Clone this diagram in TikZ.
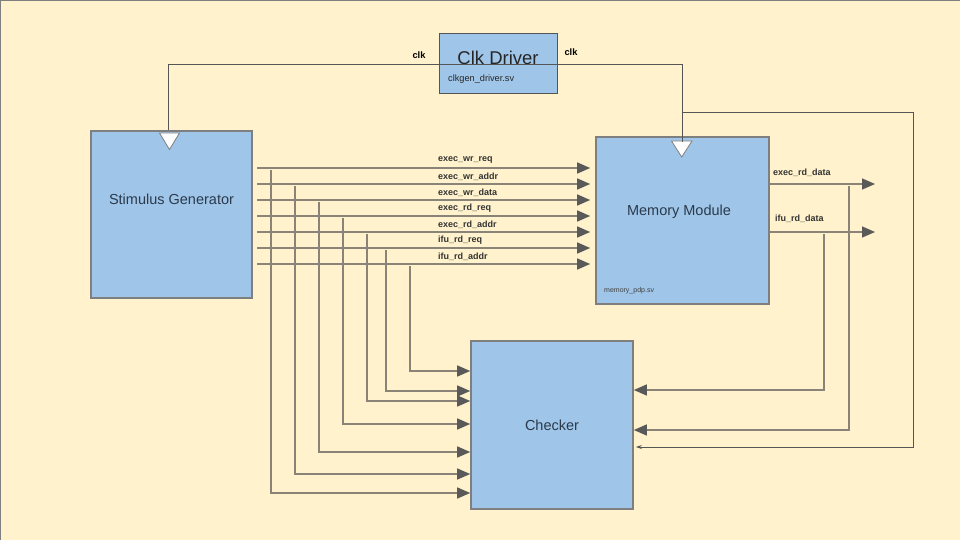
\documentclass[tikz,border=0pt]{standalone}
\usepackage{fontspec}
\setmainfont{Liberation Sans}
\usetikzlibrary{arrows.meta}
\definecolor{bg}{HTML}{FFF2CC}
\definecolor{boxfill}{HTML}{9FC5E8}
\definecolor{boxline}{HTML}{7F7F7F}
\definecolor{sigline}{HTML}{8A8478}
\definecolor{tipcol}{HTML}{595959}
\definecolor{clkline}{HTML}{555555}
\definecolor{txt}{HTML}{2B3A4C}
\tikzset{
  blockbox/.style={draw=boxline, line width=1.6pt, fill=boxfill, inner sep=0pt},
  bigtext/.style={font=\fontsize{14.5}{16}\selectfont, text=txt, inner sep=0pt},
  sig/.style={draw=sigline, line width=1.4pt, -{Triangle[length=13pt,width=11pt,color=tipcol]}},
  siglabel/.style={font=\fontsize{9}{10}\selectfont\bfseries, text=black!80, inner sep=0pt, anchor=west},
  clkwire/.style={draw=clkline, line width=0.9pt},
  clktri/.style={draw=boxline, line width=0.8pt, fill=white},
}
\begin{document}
\begin{tikzpicture}[x=1pt,y=-1pt]
\fill[bg] (0,0) rectangle (960,540);
\useasboundingbox (0,0) rectangle (960,540);
\draw[boxline, line width=1.5pt] (0.5,540) -- (0.5,0.5) -- (960,0.5);

% blocks
\node[blockbox, minimum width=161pt, minimum height=167pt] (sg) at (171.5,214.5) {};
\node[blockbox, minimum width=173pt, minimum height=167pt] (mm) at (682.5,220.5) {};
\node[blockbox, minimum width=162pt, minimum height=168pt] (ck) at (552,425) {};
\node[draw=clkline, line width=0.8pt, fill=boxfill, minimum width=118pt, minimum height=60pt, inner sep=0pt] (cd) at (498,63) {};

\node[bigtext] (sgt) at (171.5,199) {Stimulus Generator};
\node[bigtext] (mmt) at (679,212) {Memory Module};
\node[bigtext] (ckt) at (552,425) {Checker};
\node[font=\fontsize{18.5}{20}\selectfont, text=black!85, inner sep=0pt] (cdt) at (498,58) {Clk Driver};
\node[font=\fontsize{9.2}{10}\selectfont, text=black!85, inner sep=0pt, anchor=west] (cdf) at (448,79) {clkgen\_driver.sv};
\node[font=\fontsize{7}{8}\selectfont, text=black!75, inner sep=0pt, anchor=west] (mmf) at (604,291) {memory\_pdp.sv};

% clock wiring
\coordinate (clkL) at (168,64);
\coordinate (clkR) at (682,64);
\coordinate (fb0) at (682,112);
\coordinate (fb1) at (913,112);
\coordinate (fb2) at (913,447);
\draw[clkwire] (clkL) -- (clkR);
\draw[clkwire] (clkL) -- (clkL |- sg.north);
\draw[clkwire] (clkR) -- ([yshift=-6pt]clkR |- mm.north);
\draw[clkwire, -{Stealth[length=6pt,width=4pt]}] (fb0) -- (fb1) -- (fb2) -- ([xshift=2pt]ck.east |- fb2);
\node[font=\fontsize{9.3}{10}\selectfont\bfseries, inner sep=0pt] (clkl1) at (419,55) {clk};
\node[font=\fontsize{9.3}{10}\selectfont\bfseries, inner sep=0pt] (clkl2) at (571,52) {clk};

% clock triangles
\draw[clktri] (159.5,133) -- (179.5,133) -- (169.5,149.5) -- cycle;
\draw[clktri] (671.5,141) -- (692,141) -- (681.7,157) -- cycle;
\draw[clkwire] (clkR |- mm.north) -- ([yshift=-6pt]clkR |- mm.north);

% stimulus -> memory signals
\foreach \n/\y/\lab in {1/168/exec\_wr\_req, 2/184/exec\_wr\_addr, 3/200/exec\_wr\_data, 4/216/exec\_rd\_req, 5/232/exec\_rd\_addr, 6/248/ifu\_rd\_req, 7/264/ifu\_rd\_addr}{
  \coordinate (s\n) at (257,\y);
  \draw[sig] (s\n) -- ([xshift=-5pt]mm.west |- s\n);
  \node[siglabel] (l\n) at (438,\y-7.5) {\lab};
}

% taps to checker
\foreach \n/\x/\y in {1/271/493, 2/295/474, 3/319/452, 4/343/424, 5/367/401, 6/386/391, 7/410/371}{
  \coordinate (t\n) at (\x,\y);
  \draw[sig] ([yshift=-2pt]s\n -| t\n) -- (t\n) -- (ck.west |- t\n);
}

% memory outputs
\coordinate (o1) at (769,184);
\coordinate (o2) at (769,232);
\coordinate (e1) at (875,184);
\coordinate (e2) at (875,232);
\draw[sig] (o1) -- (e1);
\draw[sig] (o2) -- (e2);
\node[siglabel] (ol1) at (773,173) {exec\_rd\_data};
\node[siglabel] (ol2) at (775,219) {ifu\_rd\_data};

\coordinate (r1) at (849,430);
\coordinate (r2) at (824,390);
\draw[sig] ([yshift=-2pt]o1 -| r1) -- (r1) -- (ck.east |- r1);
\draw[sig] ([yshift=-2pt]o2 -| r2) -- (r2) -- (ck.east |- r2);
\end{tikzpicture}
\end{document}
